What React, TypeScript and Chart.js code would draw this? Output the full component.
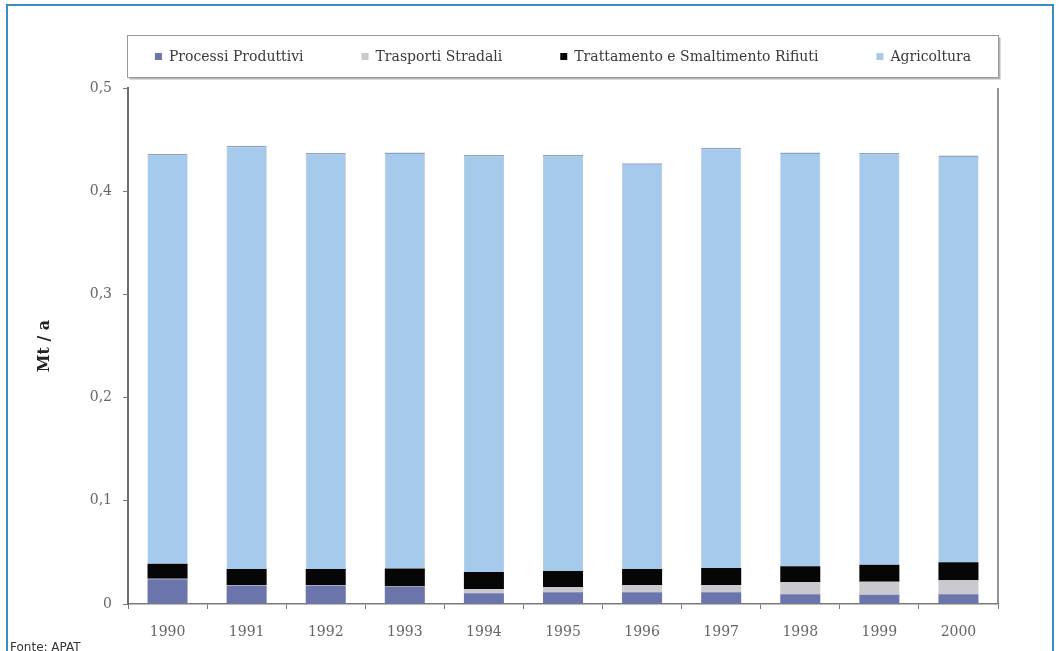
import React, { useEffect, useRef } from 'react';
import { Chart, registerables } from 'chart.js';

Chart.register(...registerables);

// Emissioni di N2O per settore (Mt / a), 1990-2000
const years = ['1990', '1991', '1992', '1993', '1994', '1995', '1996', '1997', '1998', '1999', '2000'];
const processiProduttivi = [0.024, 0.018, 0.018, 0.0165, 0.0105, 0.0115, 0.0115, 0.0115, 0.0095, 0.009, 0.0095];
const trasportiStradali = [0.0005, 0.0005, 0.0005, 0.0005, 0.004, 0.005, 0.007, 0.007, 0.0115, 0.0125, 0.0135];
const trattamentoRifiuti = [0.0145, 0.0155, 0.0155, 0.0175, 0.0165, 0.0155, 0.0155, 0.0165, 0.0155, 0.0165, 0.0175];
const agricoltura = [0.397, 0.41, 0.403, 0.403, 0.404, 0.403, 0.393, 0.407, 0.401, 0.399, 0.394];
const yTickLabels = ['0', '0,1', '0,2', '0,3', '0,4', '0,5'];

const SERIF = "'DejaVu Serif', 'Liberation Serif', serif";

// Boxed legend above the plot, plus the right-hand frame of the plot area
const boxedLegend = {
  id: 'boxedLegend',
  afterDraw(chart: any) {
    const { ctx, chartArea } = chart;
    ctx.save();
    // plot frame, right side
    ctx.strokeStyle = '#6f6f6f';
    ctx.lineWidth = 1.5;
    ctx.beginPath();
    ctx.moveTo(chartArea.right, chartArea.top);
    ctx.lineTo(chartArea.right, chartArea.bottom);
    ctx.stroke();

    // legend box with a soft shadow
    const bx = 127.5, by = 35.5, bw = 871, bh = 42;
    ctx.fillStyle = '#b5b5b5';
    ctx.fillRect(bx + 2, by + 2, bw, bh);
    ctx.fillStyle = '#ffffff';
    ctx.fillRect(bx, by, bw, bh);
    ctx.strokeStyle = '#9a9a9a';
    ctx.lineWidth = 1;
    ctx.strokeRect(bx, by, bw, bh);

    ctx.font = `14px ${SERIF}`;
    ctx.textBaseline = 'middle';
    ctx.textAlign = 'left';
    const sq = 7, sqGap = 7, itemGap = 58;
    const items = chart.data.datasets.map((d: any) => ({
      label: d.label as string,
      color: d.backgroundColor as string,
      w: sq + sqGap + ctx.measureText(d.label).width,
    }));
    const total = items.reduce((s: number, it: any) => s + it.w, 0) + itemGap * (items.length - 1);
    let x = (chartArea.left + chartArea.right) / 2 - total / 2;
    const cy = by + bh / 2;
    for (const it of items) {
      ctx.fillStyle = it.color;
      ctx.fillRect(x, cy - sq / 2, sq, sq);
      ctx.fillStyle = '#3a3a3a';
      ctx.fillText(it.label, x + sq + sqGap, cy + 0.5);
      x += it.w + itemGap;
    }
    ctx.restore();
  },
};

export default function App() {
  const canvasRef = useRef<HTMLCanvasElement | null>(null);

  useEffect(() => {
    if (!canvasRef.current) return;
    const chart = new Chart(canvasRef.current, {
      type: 'bar',
      data: {
        labels: years,
        datasets: [
          {
            label: 'Processi Produttivi',
            data: processiProduttivi,
            backgroundColor: '#6b74ab',
            borderWidth: 0,
          },
          {
            label: 'Trasporti Stradali',
            data: trasportiStradali,
            backgroundColor: '#c9c9cf',
            borderWidth: 0,
          },
          {
            label: 'Trattamento e Smaltimento Rifiuti',
            data: trattamentoRifiuti,
            backgroundColor: '#060606',
            borderWidth: 0,
          },
          {
            label: 'Agricoltura',
            data: agricoltura,
            backgroundColor: '#a6caec',
            borderColor: '#8fa3ba',
            borderWidth: { top: 1.5, left: 0.5, right: 0.5, bottom: 0 },
          },
        ],
      },
      options: {
        responsive: false,
        animation: false,
        layout: { padding: { top: 88, right: 62, bottom: 0, left: 0 } },
        datasets: {
          bar: { barPercentage: 1, categoryPercentage: 0.506 },
        },
        plugins: {
          legend: { display: false },
          tooltip: { enabled: false },
        },
        scales: {
          x: {
            stacked: true,
            afterFit: (s: any) => { s.height = 47; },
            grid: {
              display: true,
              offset: true,
              drawOnChartArea: false,
              drawTicks: true,
              tickLength: 5,
              color: '#7a7a7a',
            },
            border: { display: true, color: '#7a7a7a', width: 1.5 },
            ticks: {
              padding: 15,
              color: '#666666',
              font: { family: SERIF, size: 14 },
            },
          },
          y: {
            stacked: true,
            min: 0,
            max: 0.5,
            afterFit: (s: any) => { s.width = 128; },
            grid: {
              display: true,
              drawOnChartArea: false,
              drawTicks: true,
              tickLength: 5,
              color: '#7a7a7a',
            },
            border: { display: true, color: '#6f6f6f', width: 2 },
            ticks: {
              stepSize: 0.1,
              padding: 11,
              color: '#666666',
              font: { family: SERIF, size: 14 },
              callback: (_v: any, i: number) => yTickLabels[i],
            },
            title: {
              display: true,
              text: 'Mt / a',
              color: '#222222',
              font: { family: SERIF, size: 16, weight: 'bold' },
              padding: { top: 35, bottom: 0 },
            },
          },
        },
      },
      plugins: [boxedLegend],
    });
    return () => chart.destroy();
  }, []);

  return (
    <div
      style={{
        position: 'fixed',
        left: 0,
        top: 0,
        width: 1060,
        height: 651,
        overflow: 'hidden',
        background: '#ffffff',
      }}
    >
      <canvas
        ref={canvasRef}
        width={1060}
        height={651}
        style={{ position: 'absolute', left: 0, top: 0, width: 1060, height: 651 }}
      />
      <div
        style={{
          position: 'absolute',
          left: 6,
          top: 4,
          width: 1044,
          height: 700,
          border: '2px solid #3b8dc2',
          pointerEvents: 'none',
        }}
      />
      <div
        style={{
          position: 'absolute',
          left: 10,
          top: 640,
          fontFamily: "'DejaVu Sans', Verdana, sans-serif",
          fontSize: 12,
          color: '#333333',
          whiteSpace: 'nowrap',
        }}
      >
        Fonte: APAT
      </div>
    </div>
  );
}
